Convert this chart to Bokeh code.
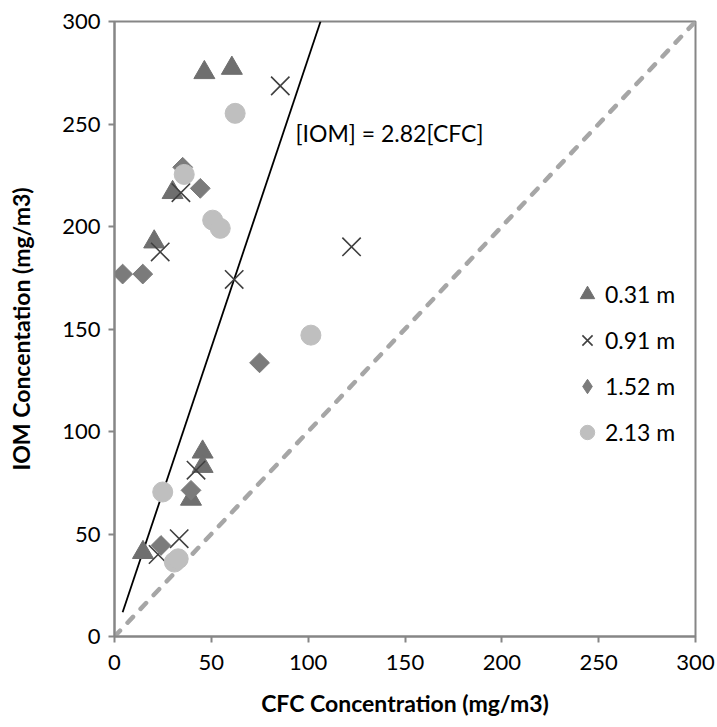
from bokeh.plotting import figure
from bokeh.models import Range1d, Legend, LegendItem, Label, FixedTicker
from bokeh.embed import file_html
from bokeh.resources import INLINE
import numpy as np

# Paired measurements (CFC vs IOM, mg/m3) by sampling height
cfc_031 = [46.4, 60.6, 30.0, 20.5, 45.5, 45.5, 39.5, 14.7]
iom_031 = [275.1, 277.2, 216.6, 192.5, 90.0, 83.0, 67.0, 41.0]

cfc_091 = [85.6, 34.3, 23.6, 61.8, 122.4, 42.1, 33.4, 22.5]
iom_091 = [268.6, 216.5, 187.6, 174.2, 190.1, 81.1, 47.7, 40.0]

cfc_152 = [35.2, 44.3, 4.2, 14.6, 74.9, 39.5, 24.0]
iom_152 = [228.9, 218.6, 176.8, 176.8, 133.5, 71.3, 44.4]

cfc_213 = [62.3, 36.0, 50.7, 54.6, 101.4, 24.9, 30.9, 32.9]
iom_213 = [255.2, 225.4, 203.1, 199.1, 147.0, 70.5, 36.3, 37.9]

series_labels = ["0.31 m", "0.91 m", "1.52 m", "2.13 m"]
axis_ticks = [0, 50, 100, 150, 200, 250, 300]
one_to_one = [0, 300]
slope = 2.82

FONT = "Lato"
AXIS_GREY = "#868686"
TRI = "#6F6F6F"
CROSS = "#404040"
DIAM = "#7B7B7B"
CIRC = "#BFBFBF"

p = figure(width=717, height=727, output_backend="svg", toolbar_location=None,
           x_range=Range1d(0, 300), y_range=Range1d(0, 300),
           min_border_left=114, min_border_right=22, min_border_top=21,
           min_border_bottom=91)
p.grid.visible = False
p.outline_line_color = AXIS_GREY
p.outline_line_width = 2
p.background_fill_color = "white"
p.border_fill_color = "white"

for ax in (p.xaxis[0], p.yaxis[0]):
    ax.ticker = FixedTicker(ticks=axis_ticks)
    ax.axis_line_color = AXIS_GREY
    ax.axis_line_width = 2
    ax.major_tick_line_color = AXIS_GREY
    ax.major_tick_line_width = 2
    ax.major_tick_out = 6
    ax.major_tick_in = 0
    ax.minor_tick_line_color = None
    ax.major_label_text_font = FONT
    ax.major_label_text_font_size = "22px"
    ax.major_label_text_color = "#000000"
    ax.axis_label_text_font = FONT
    ax.axis_label_text_font_size = "23px"
    ax.axis_label_text_font_style = "bold"
    ax.axis_label_text_color = "#000000"

p.xaxis.axis_label = "CFC Concentration (mg/m3)"
p.yaxis.axis_label = "IOM Concentation (mg/m3)"
p.xaxis.major_label_standoff = 12
p.xaxis.axis_label_standoff = 16
p.yaxis.major_label_standoff = 8
p.yaxis.axis_label_standoff = 24

# 1:1 reference line
p.line(one_to_one, one_to_one, line_color="#A6A6A6", line_width=4.5,
       line_dash="8 11", line_cap="round")

# Fitted line through the origin: [IOM] = 2.82[CFC]
all_cfc = cfc_031 + cfc_091 + cfc_152 + cfc_213
x_fit = np.array([min(all_cfc), 300 / slope])
p.line(x_fit, slope * x_fit, line_color="black", line_width=1.8)

r1 = p.scatter(cfc_031, iom_031, marker="triangle", size=21,
               fill_color=TRI, line_color=TRI)
r2 = p.scatter(cfc_091, iom_091, marker="x", size=26,
               line_color=CROSS, line_width=1.6)
# diamond glyph (used for the legend swatch), covered by the rotated squares
r3 = p.scatter(cfc_152, iom_152, marker="diamond", size=14,
               fill_color=DIAM, line_color=DIAM)
p.scatter(cfc_152, iom_152, marker="square", size=14, angle=np.pi / 4,
          fill_color=DIAM, line_color=DIAM)
r4 = p.scatter(cfc_213, iom_213, marker="circle", size=20,
               fill_color=CIRC, line_color=CIRC)

p.add_layout(Label(x=93.5, y=245.5, text="[IOM] = 2.82[CFC]",
                   text_font=FONT, text_font_size="23px",
                   text_baseline="middle", text_color="#000000"))

legend = Legend(items=[LegendItem(label=l, renderers=[r])
                       for l, r in zip(series_labels, [r1, r2, r3, r4])],
                location=(455, 184), orientation="vertical",
                glyph_width=36, glyph_height=40, spacing=6,
                label_standoff=0, padding=0, margin=0,
                border_line_color=None, background_fill_alpha=0,
                label_text_font=FONT, label_text_font_size="23px",
                label_text_color="#000000")
p.add_layout(legend)

open("out.html", "w").write(file_html(p, INLINE))
